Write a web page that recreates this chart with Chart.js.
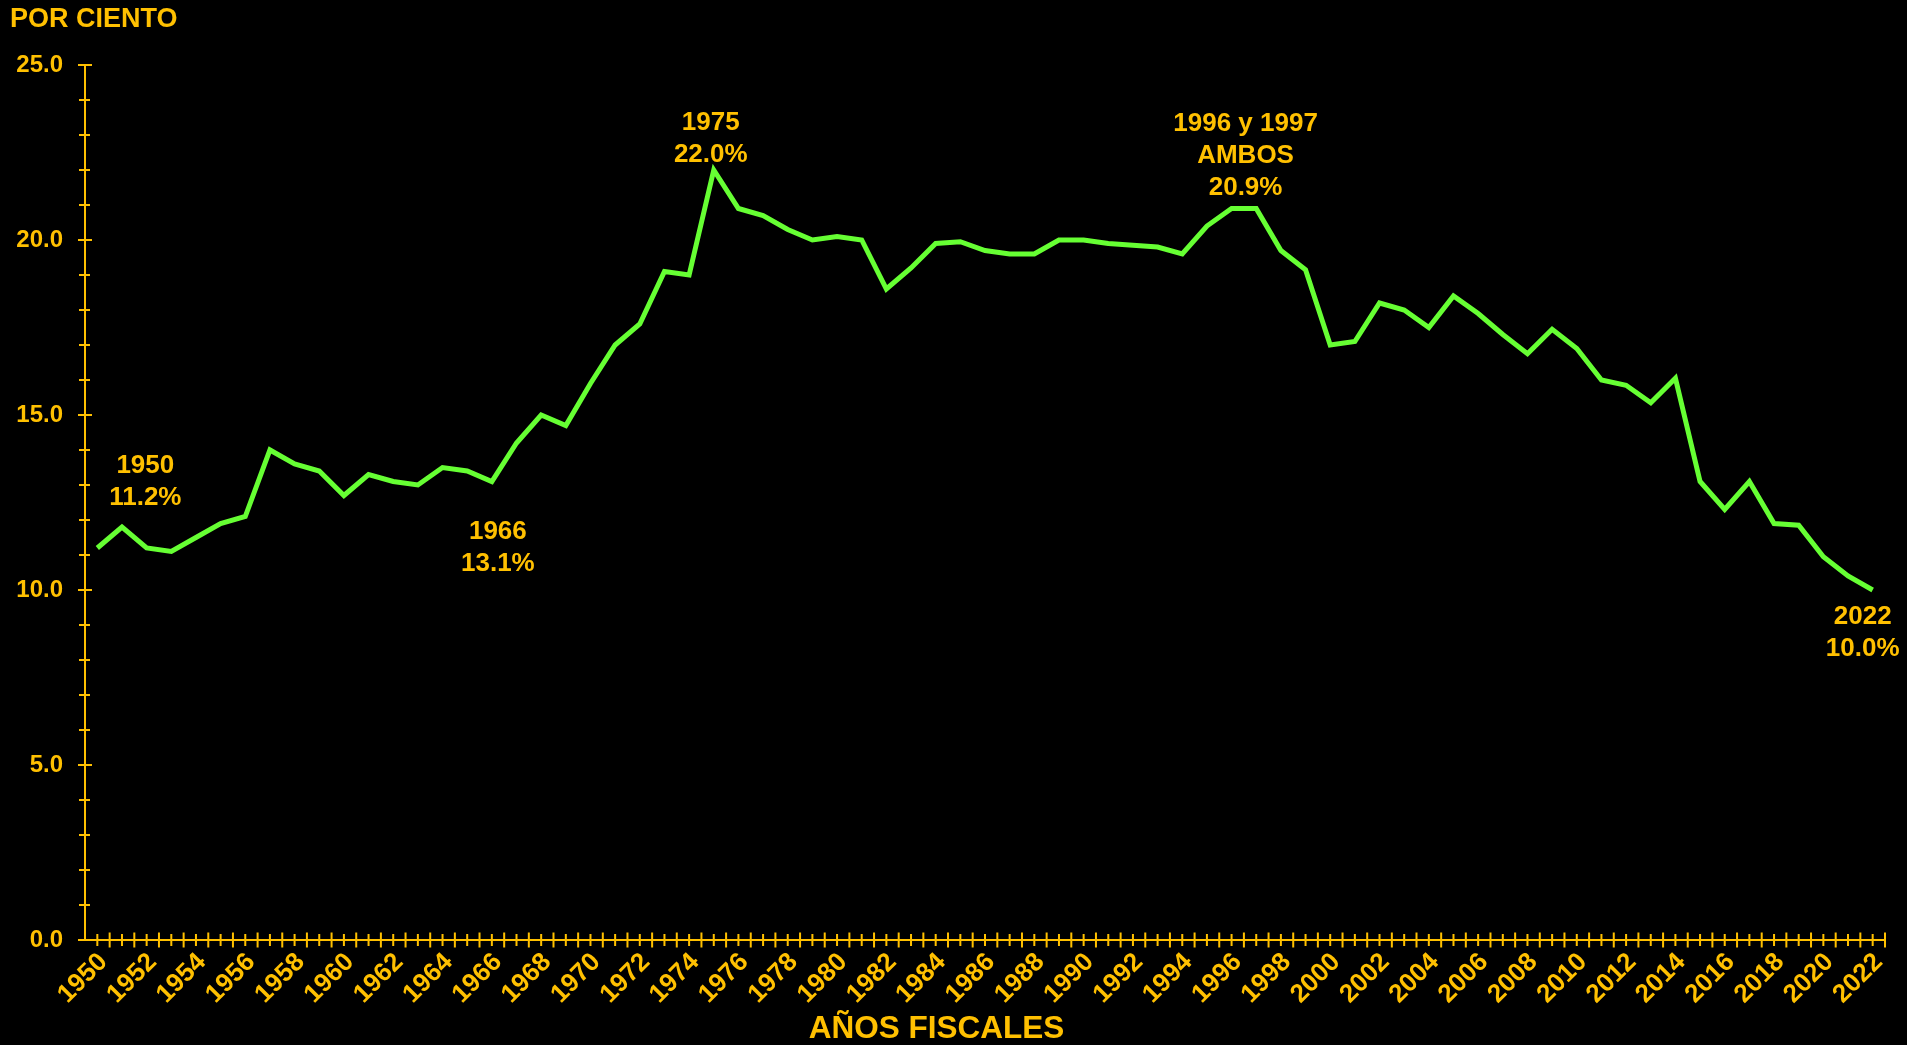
<!DOCTYPE html>
<html>
<head>
<meta charset="utf-8">
<script src="https://cdn.jsdelivr.net/npm/chart.js@4/dist/chart.umd.min.js"></script>
<style>
  html, body { margin: 0; padding: 0; background: #000; overflow: hidden; }
  #wrap { width: 1907px; height: 1045px; position: relative; background: #000; }
</style>
</head>
<body>
<div id="wrap"><canvas id="c"></canvas></div>
<script>
// ---- Data ----
const years = [];
for (let y = 1950; y <= 2022; y++) years.push(String(y));

const percentValues = [
  11.2, 11.8, 11.2, 11.1, 11.5, 11.9, 12.1, 14.0, 13.6, 13.4,   // 1950-1959
  12.7, 13.3, 13.1, 13.0, 13.5, 13.4, 13.1, 14.2, 15.0, 14.7,   // 1960-1969
  15.9, 17.0, 17.6, 19.1, 19.0, 22.0, 20.9, 20.7, 20.3, 20.0,   // 1970-1979
  20.1, 20.0, 18.6, 19.2, 19.9, 19.95, 19.7, 19.6, 19.6, 20.0,  // 1980-1989
  20.0, 19.9, 19.85, 19.8, 19.6, 20.4, 20.9, 20.9, 19.7, 19.15, // 1990-1999
  17.0, 17.1, 18.2, 18.0, 17.5, 18.4, 17.9, 17.3, 16.75, 17.45, // 2000-2009
  16.9, 16.0, 15.85, 15.35, 16.05, 13.1, 12.3, 13.1, 11.9, 11.85, // 2010-2019
  10.95, 10.4, 10.0                                              // 2020-2022
];

const yTickValues = [0, 5, 10, 15, 20, 25];

const noteYears = ['1950', '1966', '1975', '1996', '2022'];
const noteLines = [
  ['1950', '11.2%'],
  ['1966', '13.1%'],
  ['1975', '22.0%'],
  ['1996 y 1997', 'AMBOS', '20.9%'],
  ['2022', '10.0%']
];

const yUnitTitle = 'POR CIENTO';
const xAxisTitle = 'AÑOS FISCALES';

// ---- Styling ----
const GOLD = '#FFC000';
const GREEN = '#66FF33';
const FONT = '"Liberation Sans", Arial, sans-serif';

// label offsets (pixels) relative to the annotated point
const noteOffsets = [
  { dx: 48, dy: -82 },
  { dx: 6, dy: 50 },
  { dx: -3, dy: -47 },
  { dx: 14, dy: -85 },
  { dx: -10, dy: 27 }
];

const decorPlugin = {
  id: 'decor',
  beforeDraw(chart) {
    const ctx = chart.ctx;
    ctx.save();
    ctx.fillStyle = '#000';
    ctx.fillRect(0, 0, chart.width, chart.height);
    ctx.restore();
  },
  afterDraw(chart) {
    const ctx = chart.ctx;
    const xs = chart.scales.x;
    const ys = chart.scales.y;
    const area = chart.chartArea;
    ctx.save();
    ctx.strokeStyle = GOLD;
    ctx.lineWidth = 2;
    // x ticks: centers (short) and boundaries (long), crossing the axis
    const yAxis = ys.getPixelForValue(0);
    ctx.beginPath();
    for (let i = 0; i < years.length; i++) {
      const xc = xs.getPixelForValue(i);
      ctx.moveTo(xc, yAxis - 6); ctx.lineTo(xc, yAxis + 6);
      const xb = xs.getPixelForValue(i + 0.5);
      ctx.moveTo(xb, yAxis - 7.5); ctx.lineTo(xb, yAxis + 7.5);
    }
    // y ticks: minor every 1, major every 5
    const xAxis = area.left;
    for (let v = 0; v <= 25; v++) {
      const py = ys.getPixelForValue(v);
      const major = v % 5 === 0;
      ctx.moveTo(xAxis - (major ? 7 : 6), py);
      ctx.lineTo(xAxis + (major ? 7 : 5), py);
    }
    ctx.stroke();

    // titles
    ctx.fillStyle = GOLD;
    ctx.textBaseline = 'middle';
    ctx.textAlign = 'left';
    ctx.font = 'bold 27px ' + FONT;
    ctx.fillText(yUnitTitle, 10, 20);
    ctx.textAlign = 'center';
    ctx.font = 'bold 31.5px ' + FONT;
    ctx.fillText(xAxisTitle, area.left + (area.right - area.left) * 0.473, 1029);

    // annotations
    ctx.font = 'bold 26px ' + FONT;
    noteYears.forEach((yr, k) => {
      const idx = years.indexOf(yr);
      const px = xs.getPixelForValue(idx) + noteOffsets[k].dx;
      const py = ys.getPixelForValue(percentValues[idx]) + noteOffsets[k].dy;
      noteLines[k].forEach((t, j) => {
        ctx.fillText(t, px, py + j * 32);
      });
    });
    ctx.restore();
  }
};

new Chart(document.getElementById('c'), {
  type: 'line',
  data: {
    labels: years,
    datasets: [{
      data: percentValues,
      borderColor: GREEN,
      borderWidth: 5,
      pointRadius: 0,
      tension: 0,
      fill: false
    }]
  },
  options: {
    responsive: true,
    maintainAspectRatio: false,
    animation: false,
    layout: { padding: { top: 65, right: 22, bottom: 0, left: 0 } },
    plugins: { legend: { display: false }, tooltip: { enabled: false }, title: { display: false } },
    scales: {
      x: {
        type: 'category',
        offset: true,
        grid: { display: false, drawTicks: false, offset: true },
        border: { display: true, color: GOLD, width: 2 },
        ticks: {
          autoSkip: false,
          minRotation: 45,
          maxRotation: 45,
          padding: 7,
          labelOffset: 6,
          color: GOLD,
          font: { family: FONT, size: 26, weight: 'bold' },
          callback: function (val, i) {
            const lab = years[i];
            return (Number(lab) % 2 === 0) ? lab : '';
          }
        },
        afterFit(scale) { scale.height = 105; }
      },
      y: {
        min: 0,
        max: 25,
        grid: { display: false, drawTicks: false },
        border: { display: true, color: GOLD, width: 2 },
        afterBuildTicks(scale) { scale.ticks = yTickValues.map(v => ({ value: v })); },
        ticks: {
          padding: 22,
          color: GOLD,
          font: { family: FONT, size: 24, weight: 'bold' },
          callback: v => Number(v).toFixed(1)
        },
        afterFit(scale) { scale.width = 85; }
      }
    }
  },
  plugins: [decorPlugin]
});
</script>
</body>
</html>
